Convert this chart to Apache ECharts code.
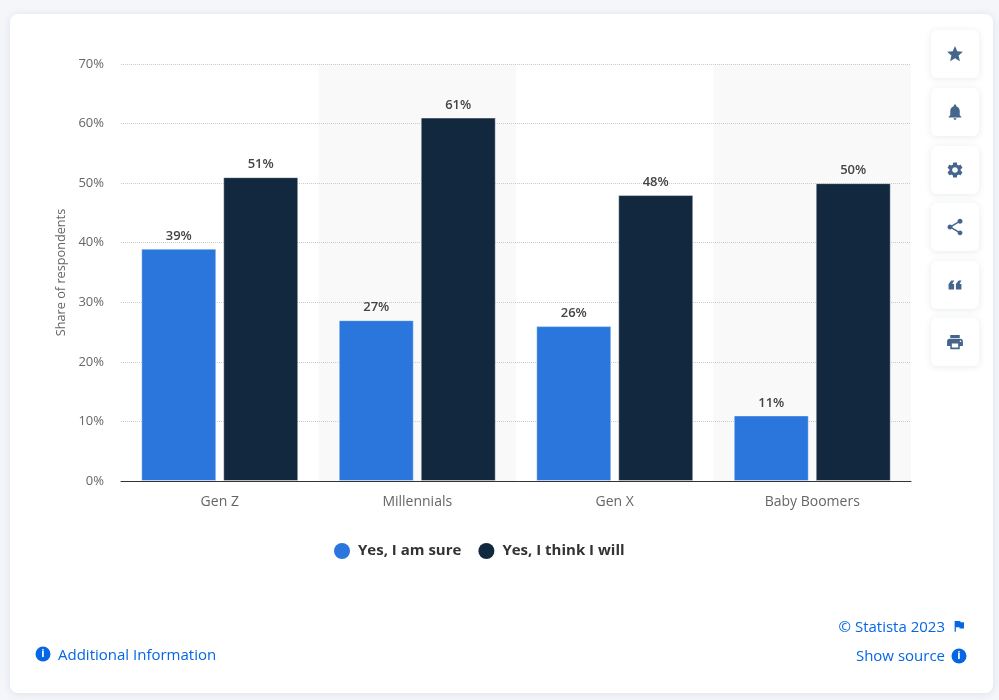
<!DOCTYPE html>
<html>
<head>
<meta charset="utf-8">
<style>
  html, body { margin: 0; padding: 0; background: #f4f6fa; }
  #main { width: 999px; height: 700px; }
</style>
<script src="https://cdn.jsdelivr.net/npm/echarts@6/dist/echarts.min.js"></script>
</head>
<body>
<div id="main"></div>
<script>
var generations = ['Gen Z', 'Millennials', 'Gen X', 'Baby Boomers'];
var sure = [39, 27, 26, 11];
var think = [51, 61, 48, 50];
var seriesNames = ['Yes, I am sure', 'Yes, I think I will'];

var font = '"Open Sans", sans-serif';
var iconColor = '#46658c';
var linkColor = '#0666e5';

// [svg path in a 24 box, centre y of the button, drawn size]
var icons = [
    ['M12 17.27L18.18 21l-1.64-7.03L22 9.24l-7.19-.61L12 2 9.19 8.63 2 9.24l5.46 4.73L5.82 21z', 54, 19],
    ['M12 22c1.1 0 2-.9 2-2h-4c0 1.1.9 2 2 2zm6-6v-5c0-3.07-1.63-5.64-4.5-6.32V4c0-.83-.67-1.5-1.5-1.5s-1.5.67-1.5 1.5v.68C7.64 5.36 6 7.92 6 11v5l-2 2v1h16v-1l-2-2z', 112, 19],
    ['M19.14 12.94c.04-.3.06-.61.06-.94 0-.32-.02-.64-.07-.94l2.03-1.58c.18-.14.23-.41.12-.61l-1.92-3.32c-.12-.22-.37-.29-.59-.22l-2.39.96c-.5-.38-1.03-.7-1.62-.94l-.36-2.54c-.04-.24-.24-.41-.48-.41h-3.84c-.24 0-.43.17-.47.41l-.36 2.54c-.59.24-1.13.57-1.62.94l-2.39-.96c-.22-.08-.47 0-.59.22L2.74 8.87c-.12.21-.08.47.12.61l2.03 1.58c-.05.3-.09.63-.09.94s.02.64.07.94l-2.03 1.58c-.18.14-.23.41-.12.61l1.92 3.32c.12.22.37.29.59.22l2.39-.96c.5.38 1.03.7 1.62.94l.36 2.54c.05.24.24.41.48.41h3.84c.24 0 .44-.17.47-.41l.36-2.54c.59-.24 1.13-.56 1.62-.94l2.39.96c.22.08.47 0 .59-.22l1.92-3.32c.12-.22.07-.47-.12-.61l-2.01-1.58zM12 15.6c-1.98 0-3.6-1.62-3.6-3.6s1.62-3.6 3.6-3.6 3.6 1.62 3.6 3.6-1.62 3.6-3.6 3.6z', 170, 19],
    ['M18 16.08c-.76 0-1.44.3-1.96.77L8.91 12.7c.05-.23.09-.46.09-.7s-.04-.47-.09-.7l7.05-4.11c.54.5 1.25.81 2.04.81 1.66 0 3-1.34 3-3s-1.34-3-3-3-3 1.34-3 3c0 .24.04.47.09.7L8.04 9.81C7.5 9.31 6.79 9 6 9c-1.66 0-3 1.34-3 3s1.34 3 3 3c.79 0 1.5-.31 2.04-.81l7.12 4.16c-.05.21-.08.43-.08.65 0 1.61 1.31 2.92 2.92 2.92 1.61 0 2.92-1.31 2.92-2.92s-1.31-2.92-2.92-2.92z', 227, 20],
    ['M11 17H5v-6l3-4h3l-2 4h2zM19 17h-6v-6l3-4h3l-2 4h2z', 285, 22],
    ['M19 8H5c-1.66 0-3 1.34-3 3v6h4v4h12v-4h4v-6c0-1.66-1.34-3-3-3zm-3 11H8v-5h8v5zm3-7c-.55 0-1-.45-1-1s.45-1 1-1 1 .45 1 1-.45 1-1 1zm-1-9H6v4h12V3z', 342, 19]
];
var flagPath = 'M14.4 6L14 4H5v17h2v-7h5.6l.4 2h7V6z';

// the graphic component has no plain path type, so register each icon as a shape
icons.forEach(function (ic, i) {
    echarts.graphic.registerShape('icon' + i, echarts.graphic.extendPath(ic[0], {}));
});
echarts.graphic.registerShape('flagIcon', echarts.graphic.extendPath(flagPath, {}));

function placeIcon(name, cx, cy, size, color) {
    var s = size / 24;
    return { type: name, x: cx - 12 * s, y: cy - 12 * s, scaleX: s, scaleY: s, style: { fill: color } };
}

function infoIcon(cx, cy) {
    return [
        { type: 'circle', shape: { cx: cx, cy: cy, r: 7.5 }, style: { fill: linkColor } },
        { type: 'text', x: cx, y: cy, style: { text: 'i', fill: '#fff', font: 'bold 11px ' + font, align: 'center', verticalAlign: 'middle' } }
    ];
}

function footerText(text, x, y, align) {
    return { type: 'text', x: x, y: y, style: { text: text, fill: linkColor, font: '15px ' + font, align: align, verticalAlign: 'middle' } };
}

// card behind the chart, everything else sits on top of it
var decoration = [{
    type: 'rect', z: -10,
    shape: { x: 10, y: 14, width: 983, height: 679, r: 8 },
    style: { fill: '#fff', shadowBlur: 8, shadowColor: 'rgba(60,80,110,0.12)', shadowOffsetY: 1 }
}];

icons.forEach(function (ic, i) {
    decoration.push({
        type: 'rect',
        shape: { x: 931, y: ic[1] - 24, width: 48, height: 48, r: 6 },
        style: { fill: '#fff', shadowBlur: 7, shadowColor: 'rgba(60,80,110,0.12)', shadowOffsetY: 1 }
    });
    decoration.push(placeIcon('icon' + i, 955, ic[1], ic[2], iconColor));
});

decoration = decoration.concat(
    infoIcon(43, 654),
    infoIcon(959, 656),
    [
        footerText('Additional Information', 58, 655.5, 'left'),
        footerText('© Statista 2023', 945, 627.5, 'right'),
        footerText('Show source', 945, 657, 'right'),
        placeIcon('flagIcon', 959, 626, 15, linkColor)
    ]
);

var barLabel = { show: true, position: 'top', formatter: '{c}%', color: '#444', fontSize: 13, fontWeight: 600, distance: 6 };
var barEdge = 'rgba(255,255,255,0.4)';

var option = {
    animation: false,
    backgroundColor: 'transparent',
    textStyle: { fontFamily: font },
    grid: { left: 121, right: 88, top: 64, bottom: 219 },
    legend: {
        data: seriesNames,
        left: 329,
        top: 538,
        icon: 'circle',
        itemWidth: 16,
        itemHeight: 16,
        itemGap: 17,
        itemStyle: { borderWidth: 0 },
        textStyle: { fontFamily: font, fontSize: 15, fontWeight: 700, color: '#333', padding: [0, 0, 0, 3] }
    },
    xAxis: [{
        // alternating bands only, kept under the grid lines
        type: 'category',
        data: generations,
        z: 0,
        axisTick: { show: false },
        axisLine: { show: false },
        axisLabel: { color: '#666', fontSize: 14, margin: 14 },
        splitArea: { show: true, areaStyle: { color: ['rgba(0,0,0,0)', '#f9f9f9'] } }
    }, {
        // baseline over the bar feet
        type: 'category',
        data: generations,
        position: 'bottom',
        z: 3,
        axisTick: { show: false },
        axisLabel: { show: false },
        axisLine: { onZero: false, lineStyle: { color: '#333', width: 1 } }
    }],
    yAxis: {
        type: 'value',
        min: 0,
        max: 70,
        interval: 10,
        z: 1,
        name: 'Share of respondents',
        nameLocation: 'middle',
        nameGap: 53,
        nameTextStyle: { color: '#666', fontSize: 12.7 },
        axisLine: { show: false },
        axisTick: { show: false },
        axisLabel: { formatter: '{value}%', color: '#666', fontSize: 13, margin: 17, padding: [4, 0, 0, 0] },
        splitLine: { lineStyle: { color: '#cbcbcb', type: 'dotted', width: 1 } }
    },
    series: [{
        type: 'bar',
        name: seriesNames[0],
        data: sure,
        barWidth: 75,
        barGap: '9.3%',
        itemStyle: { color: '#2a76dd', borderColor: barEdge, borderWidth: 1 },
        label: barLabel
    }, {
        type: 'bar',
        name: seriesNames[1],
        data: think,
        barWidth: 75,
        itemStyle: { color: '#12283f', borderColor: barEdge, borderWidth: 1 },
        label: barLabel
    }],
    graphic: decoration
};

var myChart = echarts.init(document.getElementById('main'));
myChart.setOption(option);
</script>
</body>
</html>
